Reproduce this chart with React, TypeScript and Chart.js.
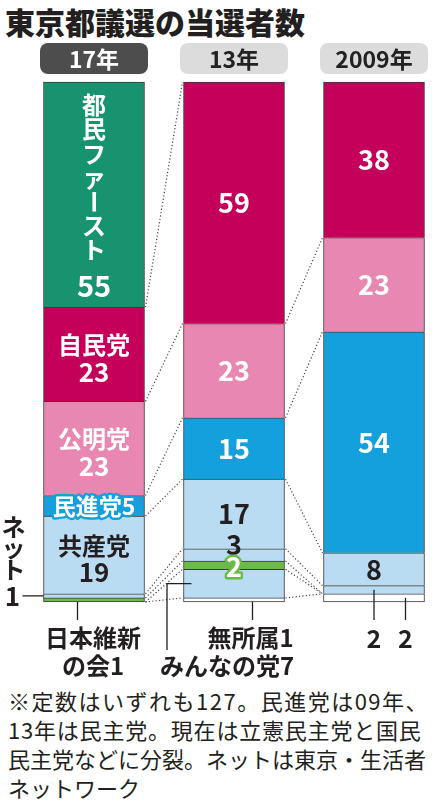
import { useEffect, useRef } from 'react';
import { Chart, registerables, type Plugin } from 'chart.js';

Chart.register(...registerables);

// ---- data (bottom of each stack first) ----
const YEARS = ['17年', '13年', '2009年'];
const TOTAL_SEATS = 127;

const independents = [0, 1, 2]; // 無所属
const minna = [0, 7, 0];        // みんなの党
const ishin = [1, 2, 0];        // 日本維新の会
const net = [1, 3, 2];          // 東京・生活者ネットワーク
const jcp = [19, 17, 8];        // 共産党
const minshin = [5, 15, 54];    // 民進党 (09, 13年は民主党)
const komeito = [23, 23, 23];   // 公明党
const ldp = [23, 59, 38];       // 自民党
const tomin = [55, 0, 0];       // 都民ファースト

const partyNames = ['無所属', 'みんなの党', '日本維新の会', 'ネット', '共産党', '民進党', '公明党', '自民党', '都民ファースト'];
const seatsByParty = [independents, minna, ishin, net, jcp, minshin, komeito, ldp, tomin];

// ---- styles ----
const partyColors = ['#ffffff', '#b9dcf3', '#6cba48', '#b9dcf3', '#b9dcf3', '#14a0dc', '#e887b2', '#c4005a', '#17936f'];
const FONT = "'Noto Sans CJK JP', 'Noto Sans', sans-serif";
const INK = '#231f20';
const EDGE = '#3a3a3a';

const P = { indep: 0, minna: 1, ishin: 2, net: 3, jcp: 4, minshin: 5, komeito: 6, ldp: 7, tomin: 8 };

// in-bar labels: party, year, lines, text colour, halo colour, nudge
type BarLabel = { p: number; y: number; lines: string[]; color: string; halo?: string; dy?: number; size?: number };
const barLabels: BarLabel[] = [
  { p: P.ldp, y: 0, lines: ['自民党', String(ldp[0])], color: '#fff', dy: 4 },
  { p: P.komeito, y: 0, lines: ['公明党', String(komeito[0])], color: '#fff', dy: 4 },
  { p: P.minshin, y: 0, lines: ['民進党' + minshin[0]], color: '#fff', halo: '#14a0dc', size: 23 },
  { p: P.jcp, y: 0, lines: ['共産党', String(jcp[0])], color: INK, dy: 4 },
  { p: P.ldp, y: 1, lines: [String(ldp[1])], color: '#fff', size: 27 },
  { p: P.komeito, y: 1, lines: [String(komeito[1])], color: '#fff', size: 27 },
  { p: P.minshin, y: 1, lines: [String(minshin[1])], color: '#fff', size: 27 },
  { p: P.jcp, y: 1, lines: [String(jcp[1])], color: INK, size: 27 },
  { p: P.net, y: 1, lines: [String(net[1])], color: INK, dy: -10, size: 27 },
  { p: P.ishin, y: 1, lines: [String(ishin[1])], color: '#fff', halo: '#6cba48', dy: 2, size: 27 },
  { p: P.ldp, y: 2, lines: [String(ldp[2])], color: '#fff', size: 27 },
  { p: P.komeito, y: 2, lines: [String(komeito[2])], color: '#fff', size: 27 },
  { p: P.minshin, y: 2, lines: [String(minshin[2])], color: '#fff', size: 27 },
  { p: P.jcp, y: 2, lines: [String(jcp[2])], color: INK, size: 27 },
];

function text(ctx: CanvasRenderingContext2D, s: string, x: number, y: number, size: number, color: string, halo?: string) {
  ctx.font = `bold ${size}px ${FONT}`;
  ctx.textAlign = 'center';
  ctx.textBaseline = 'middle';
  if (halo) {
    ctx.lineWidth = 5;
    ctx.lineJoin = 'round';
    ctx.strokeStyle = halo;
    ctx.strokeText(s, x, y);
  }
  ctx.fillStyle = color;
  ctx.fillText(s, x, y);
}

function verticalChar(ctx: CanvasRenderingContext2D, ch: string, x: number, y: number, size: number, color: string) {
  if (ch === 'ー') {
    ctx.save();
    ctx.translate(x, y);
    ctx.rotate(Math.PI / 2);
    text(ctx, ch, 0, 0, size, color);
    ctx.restore();
  } else {
    text(ctx, ch, x, y, size, color);
  }
}

function line(ctx: CanvasRenderingContext2D, pts: [number, number][]) {
  ctx.beginPath();
  pts.forEach(([x, y], i) => (i ? ctx.lineTo(x, y) : ctx.moveTo(x, y)));
  ctx.stroke();
}

function lowestDataset(col: number) {
  return seatsByParty.findIndex(s => s[col] > 0);
}

function cumulative(col: number) {
  const out = [0];
  seatsByParty.forEach(s => out.push(out[out.length - 1] + s[col]));
  return out;
}

const headerPlugin: Plugin<'bar'> = {
  id: 'headers',
  beforeDraw(chart) {
    const { ctx, chartArea } = chart;
    const xs = chart.scales.x;
    ctx.save();
    YEARS.forEach((_, i) => {
      const cx = xs.getPixelForTick(i);
      ctx.fillStyle = i === 0 ? '#4d4d4d' : '#dcdcdc';
      ctx.beginPath();
      ctx.roundRect(cx - 54, chartArea.top - 39, 108, 31, 8);
      ctx.fill();
    });
    ctx.restore();
  },
};

const connectorPlugin: Plugin<'bar'> = {
  id: 'connectors',
  afterDatasetsDraw(chart) {
    const { ctx } = chart;
    const ys = chart.scales.y;
    const meta = chart.getDatasetMeta(P.jcp);
    ctx.save();
    ctx.strokeStyle = '#444';
    ctx.lineWidth = 1.2;
    ctx.setLineDash([1.2, 2.2]);
    for (let i = 0; i < YEARS.length - 1; i++) {
      const a = meta.data[i] as any;
      const b = meta.data[i + 1] as any;
      const xr = a.x + a.width / 2;
      const xl = b.x - b.width / 2;
      const ca = cumulative(i);
      const cb = cumulative(i + 1);
      const seen = new Set<string>();
      for (let k = 1; k < ca.length; k++) {
        if (ca[k] === cb[k] && (ca[k] === 0 || ca[k] === TOTAL_SEATS)) continue;
        const key = ca[k] + '-' + cb[k];
        if (seen.has(key)) continue;
        seen.add(key);
        line(ctx, [[xr + 1, ys.getPixelForValue(ca[k])], [xl - 1, ys.getPixelForValue(cb[k])]]);
      }
    }
    ctx.restore();
  },
};

const labelPlugin: Plugin<'bar'> = {
  id: 'labels',
  afterDatasetsDraw(chart) {
    const { ctx } = chart;
    ctx.save();

    // vertical 都民ファースト
    const tf = chart.getDatasetMeta(P.tomin).data[0] as any;
    [...'都民ファースト'].forEach((ch, j) => verticalChar(ctx, ch, tf.x, tf.y + 23 + j * 24.2, 24, '#fff'));
    text(ctx, String(tomin[0]), tf.x, tf.y + 204, 29, '#fff');

    barLabels.forEach(l => {
      const el = chart.getDatasetMeta(l.p).data[l.y] as any;
      const cy = (el.y + el.base) / 2 + (l.dy ?? 0);
      const step = 27;
      l.lines.forEach((s, j) => {
        const size = l.size ?? (j === 0 ? 24 : 26);
        text(ctx, s, el.x, cy + (j - (l.lines.length - 1) / 2) * step, size, l.color, l.halo);
      });
    });

    // outside annotations with leader lines
    ctx.strokeStyle = INK;
    ctx.lineWidth = 1.3;
    const bottom = chart.scales.y.getPixelForValue(0);
    const b0 = chart.getDatasetMeta(P.jcp).data[0] as any;
    const b1 = chart.getDatasetMeta(P.jcp).data[1] as any;
    const b2 = chart.getDatasetMeta(P.jcp).data[2] as any;
    const left0 = b0.x - b0.width / 2;
    const left1 = b1.x - b1.width / 2;

    const net0 = chart.getDatasetMeta(P.net).data[0] as any;
    const netY = (net0.y + net0.base) / 2;
    [...'ネット'].forEach((ch, j) => verticalChar(ctx, ch, left0 - 30, netY - 69 + j * 21.5, 24, INK));
    text(ctx, String(net[0]), left0 - 31, netY, 26, INK);
    line(ctx, [[left0 - 21, netY], [left0, netY]]);

    line(ctx, [[left0 + 34, bottom], [left0 + 34, bottom + 18]]);
    text(ctx, '日本維新', b0.x - 1, bottom + 36, 24, INK);
    text(ctx, 'の会' + ishin[0], b0.x - 1, bottom + 64, 24, INK);

    line(ctx, [[b1.x + 18.5, bottom], [b1.x + 18.5, bottom + 18]]);
    text(ctx, '無所属' + independents[1], b1.x + 16.5, bottom + 36, 24, INK);

    const mi = chart.getDatasetMeta(P.minna).data[1] as any;
    const miY = (mi.y + mi.base) / 2;
    line(ctx, [[left1 + 8, miY], [left1 - 16.5, miY], [left1 - 16.5, bottom + 48]]);
    text(ctx, 'みんなの党' + minna[1], b1.x - 7, bottom + 64, 24, INK);

    const net2 = chart.getDatasetMeta(P.net).data[2] as any;
    const net2Y = (net2.y + net2.base) / 2;
    line(ctx, [[b2.x, net2Y], [b2.x, bottom + 18]]);
    text(ctx, String(net[2]), b2.x, bottom + 36, 25, INK);
    const ind2 = chart.getDatasetMeta(P.indep).data[2] as any;
    const ind2Y = (ind2.y + ind2.base) / 2;
    line(ctx, [[b2.x + 31.5, ind2Y], [b2.x + 31.5, bottom + 18]]);
    text(ctx, String(independents[2]), b2.x + 31.5, bottom + 36, 25, INK);

    ctx.restore();
  },
};

export default function App() {
  const canvasRef = useRef<HTMLCanvasElement>(null);

  useEffect(() => {
    if (!canvasRef.current) return;
    const chart = new Chart(canvasRef.current, {
      type: 'bar',
      plugins: [headerPlugin, connectorPlugin, labelPlugin],
      data: {
        labels: YEARS,
        datasets: partyNames.map((name, k) => ({
          label: name,
          data: seatsByParty[k].map(v => (v > 0 ? v : null)),
          backgroundColor: partyColors[k],
          borderColor: EDGE,
          borderWidth: 1,
          borderSkipped: (c: any) => (c.datasetIndex === lowestDataset(c.dataIndex) ? false : 'start'),
          barThickness: 101,
          clip: false as any,
        })),
      },
      options: {
        responsive: true,
        maintainAspectRatio: false,
        animation: false,
        layout: { padding: { top: 38, left: 94, right: 63, bottom: 78 } },
        plugins: { legend: { display: false }, tooltip: { enabled: false } },
        scales: {
          x: {
            position: 'top',
            stacked: true,
            offset: false,
            grid: { display: false, drawTicks: false },
            border: { display: false },
            ticks: {
              color: (c: any) => (c.index === 0 ? '#fff' : '#222'),
              font: { family: FONT, size: 23, weight: 'bold' },
              padding: 9,
              maxRotation: 0,
              autoSkip: false,
            },
            afterFit: (s: any) => { s.height = 44; },
          },
          y: { display: false, stacked: true, min: 0, max: TOTAL_SEATS },
        },
      },
    });
    return () => chart.destroy();
  }, []);

  return (
    <div style={{ position: 'absolute', left: 0, top: 0, width: 437, height: 800, background: '#fff', fontFamily: FONT, color: INK }}>
      <div style={{ position: 'absolute', left: 5, top: 6, fontSize: 30, lineHeight: '30px', fontWeight: 900, whiteSpace: 'nowrap' }}>
        東京都議選の当選者数
      </div>
      <div style={{ position: 'absolute', left: 0, top: 0, width: 437, height: 680 }}>
        <canvas ref={canvasRef} />
      </div>
      <div style={{ position: 'absolute', left: 8, top: 686, fontSize: 22, lineHeight: '29px', whiteSpace: 'nowrap' }}>
        <div style={{ letterSpacing: 1.5 }}>※定数はいずれも127。民進党は09年、</div>
        <div style={{ letterSpacing: 0.8 }}>13年は民主党。現在は立憲民主党と国民</div>
        <div>民主党などに分裂。ネットは東京・生活者</div>
        <div>ネットワーク</div>
      </div>
    </div>
  );
}
